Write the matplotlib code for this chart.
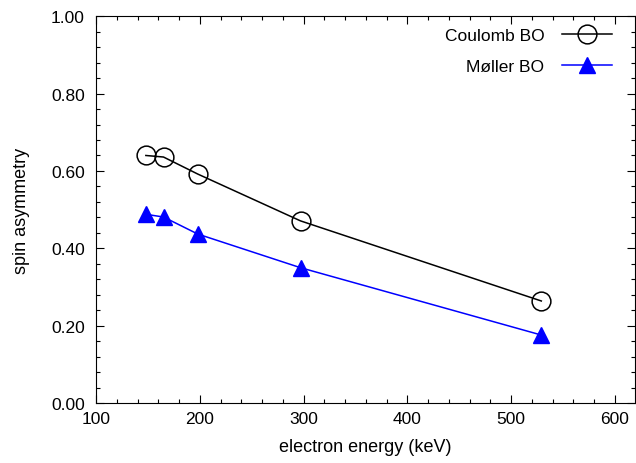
import matplotlib
matplotlib.use('Agg')
import matplotlib.pyplot as plt
from matplotlib.ticker import MultipleLocator, FormatStrFormatter

plt.rcParams['font.family'] = ['Liberation Sans', 'DejaVu Sans']

# data
energy = [148, 165, 198, 297, 529]
coulomb_bo = [0.640, 0.636, 0.592, 0.471, 0.264]
moller_bo = [0.488, 0.481, 0.437, 0.350, 0.176]

fig = plt.figure(figsize=(6.36, 4.64), dpi=100)
ax = fig.add_axes([0.151, 0.129, 0.847, 0.834])

ax.plot(energy, coulomb_bo, color='black', lw=1.1, marker='o', markersize=13.5,
        markerfacecolor='none', markeredgecolor='black', markeredgewidth=1.1,
        label='Coulomb BO')
ax.plot(energy, moller_bo, color='blue', lw=1.1, marker='^', markersize=12,
        markerfacecolor='blue', markeredgecolor='blue', label='M\u00f8ller BO')

ax.set_xlim(100, 619)
ax.set_ylim(0, 1)
ax.xaxis.set_major_locator(MultipleLocator(100))
ax.xaxis.set_minor_locator(MultipleLocator(20))
ax.yaxis.set_major_locator(MultipleLocator(0.2))
ax.yaxis.set_minor_locator(MultipleLocator(0.04))
ax.yaxis.set_major_formatter(FormatStrFormatter('%.2f'))
ax.tick_params(which='both', direction='in', top=True, right=True, labelsize=12.5)
ax.tick_params(which='major', length=6, width=0.8)
ax.tick_params(which='minor', length=3, width=0.8)
ax.tick_params(axis='y', pad=8)
ax.tick_params(axis='x', pad=6)

ax.set_xlabel('electron energy (keV)', fontsize=13, labelpad=8)
ax.set_ylabel('spin asymmetry', fontsize=13, labelpad=15)

ax.legend(loc='upper right', bbox_to_anchor=(1, 1.027), frameon=False,
          markerfirst=False, fontsize=12.5, handlelength=2.9,
          handletextpad=1.0, borderaxespad=0.9, labelspacing=0.9)

fig.savefig('out.png', dpi=100)
